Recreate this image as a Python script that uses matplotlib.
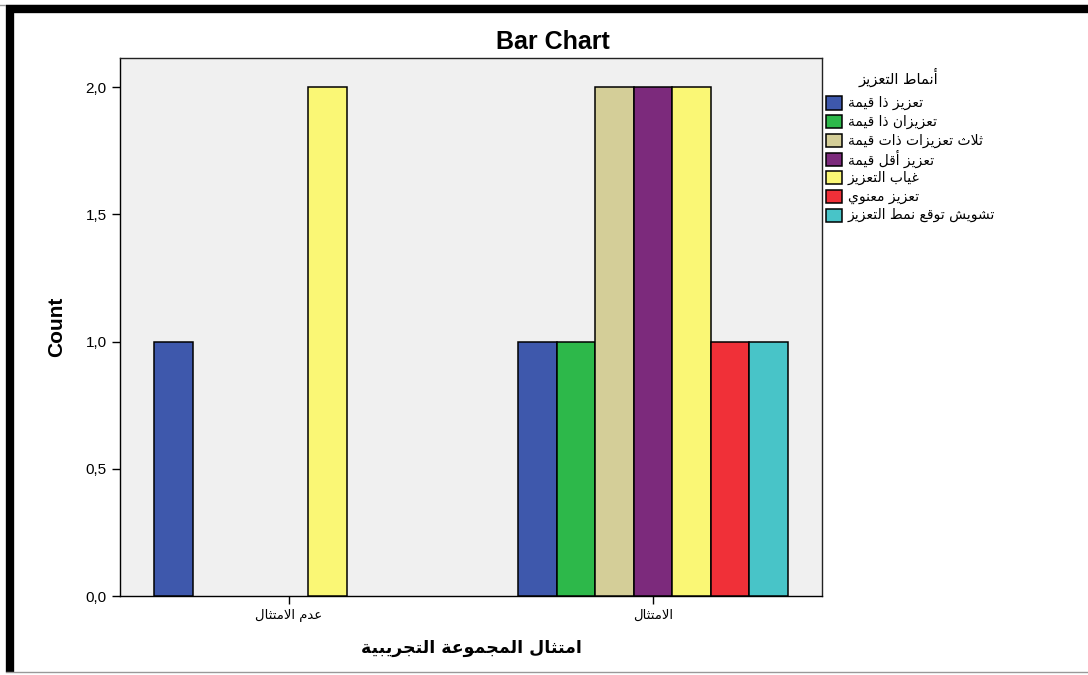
import matplotlib
matplotlib.use("Agg")
import matplotlib.pyplot as plt
from matplotlib.patches import Rectangle
from matplotlib.lines import Line2D
import numpy as np

categories = ['عدم الامتثال', 'الامتثال']
series_names = ['تعزيز ذا قيمة', 'تعزيزان ذا قيمة', 'ثلاث تعزيزات ذات قيمة',
                'تعزيز أقل قيمة', 'غياب التعزيز', 'تعزيز معنوي',
                'تشويش توقع نمط التعزيز']
# counts per series: [عدم الامتثال, الامتثال]
counts = [[1, 1], [0, 1], [0, 2], [0, 2], [2, 2], [0, 1], [0, 1]]
colors = ['#3E58AC', '#2DB84A', '#D4CE98', '#7C2A7C', '#FAF775', '#F03038', '#48C4C8']
yticks = [0, 0.5, 1.0, 1.5, 2.0]
ytick_labels = ['0,0', '0,5', '1,0', '1,5', '2,0']
legend_title = 'أنماط التعزيز'
xlabel = 'امتثال المجموعة التجريبية'

# minimal arabic shaping (contextual forms + lam-alef) and RTL reversal
RIGHT = {'آ': 0xFE81, 'أ': 0xFE83, 'ؤ': 0xFE85, 'إ': 0xFE87, 'ا': 0xFE8D, 'ة': 0xFE93,
         'د': 0xFEA9, 'ذ': 0xFEAB, 'ر': 0xFEAD, 'ز': 0xFEAF, 'و': 0xFEED, 'ى': 0xFEEF}
DUAL = {'ئ': 0xFE89, 'ب': 0xFE8F, 'ت': 0xFE95, 'ث': 0xFE99, 'ج': 0xFE9D, 'ح': 0xFEA1,
        'خ': 0xFEA5, 'س': 0xFEB1, 'ش': 0xFEB5, 'ص': 0xFEB9, 'ض': 0xFEBD, 'ط': 0xFEC1,
        'ظ': 0xFEC5, 'ع': 0xFEC9, 'غ': 0xFECD, 'ف': 0xFED1, 'ق': 0xFED5, 'ك': 0xFED9,
        'ل': 0xFEDD, 'م': 0xFEE1, 'ن': 0xFEE5, 'ه': 0xFEE9, 'ي': 0xFEF1}
LAMALEF = {'آ': 0xFEF5, 'أ': 0xFEF7, 'إ': 0xFEF9, 'ا': 0xFEFB}


def ar(s):
    toks = []
    i = 0
    while i < len(s):
        c = s[i]
        if c == 'ل' and i + 1 < len(s) and s[i + 1] in LAMALEF:
            toks.append(('r', LAMALEF[s[i + 1]]))
            i += 2
            continue
        if c in DUAL:
            toks.append(('d', DUAL[c]))
        elif c in RIGHT:
            toks.append(('r', RIGHT[c]))
        else:
            toks.append(('x', c))
        i += 1
    out = []
    for k, (t, b) in enumerate(toks):
        if t == 'x':
            out.append(b)
            continue
        prev = k > 0 and toks[k - 1][0] == 'd'
        nxt = t == 'd' and k + 1 < len(toks) and toks[k + 1][0] != 'x'
        if prev and nxt:
            f = 3
        elif prev:
            f = 1
        elif nxt:
            f = 2
        else:
            f = 0
        out.append(chr(b + f))
    return ''.join(reversed(out))


plt.rcParams['font.family'] = ['Liberation Sans', 'DejaVu Sans']

W, H = 1088, 675
fig = plt.figure(figsize=(W / 100, H / 100), dpi=100)
ax = fig.add_axes([0.1103, 0.117, 0.6452, 0.797])
ax.set_facecolor('#F0F0F0')

x = np.arange(len(categories))
w = 0.1058
n = len(series_names)
for i in range(n):
    vals = counts[i]
    lws = [1.1 if v > 0 else 0 for v in vals]
    ax.bar(x + (i - (n - 1) / 2) * w, vals, width=w, color=colors[i],
           edgecolor='black', linewidth=lws, zorder=3)

ax.set_xlim(-0.464, 1.464)
ax.set_ylim(0, 2.114)
ax.set_yticks(yticks)
ax.set_yticklabels(ytick_labels, fontsize=11)
ax.set_xticks(x)
ax.set_xticklabels([ar(c) for c in categories], fontsize=9.5, family=['DejaVu Sans'])
ax.tick_params(axis='both', direction='out', length=6, width=1, color='black')
for sp in ax.spines.values():
    sp.set_color('#222222')
    sp.set_linewidth(1)
ax.spines['left'].set_color('black')
ax.spines['bottom'].set_color('black')

ax.set_ylabel('Count', fontsize=15, fontweight='bold', labelpad=14)
ax.set_xlabel(ar(xlabel), fontsize=12.5, fontweight='bold', family=['DejaVu Sans'], labelpad=12)

fig.text(553 / W, 1 - 42 / H, 'Bar Chart', ha='center', va='center', fontsize=18,
         fontweight='bold')

# legend, drawn row by row so the rows stay evenly spaced
fig.text(898 / W, 1 - 77 / H, ar(legend_title), ha='center', va='center',
         fontsize=10.5, family=['DejaVu Sans'])
for i, (name, c) in enumerate(zip(series_names, colors)):
    yc = 103 + 18.7 * i
    fig.add_artist(Rectangle((826 / W, 1 - (yc + 6.5) / H), 16 / W, 13 / H,
                             facecolor=c, edgecolor='black', lw=1.1,
                             transform=fig.transFigure))
    fig.text(848 / W, 1 - yc / H, ar(name), ha='left', va='center', fontsize=10,
             family=['DejaVu Sans'])

# outer frame of the chart window
fig.add_artist(Line2D([0, 1], [1 - 4.5 / H] * 2, color='#999999', lw=1))
fig.add_artist(Line2D([6 / W, 1], [1 - 9 / H] * 2, color='black', lw=6,
                      solid_capstyle='butt'))
fig.add_artist(Line2D([10 / W] * 2, [1 - 6 / H, 1 - 672 / H], color='black', lw=6,
                      solid_capstyle='butt'))
fig.add_artist(Line2D([6 / W, 1], [1 - 672 / H] * 2, color='#999999', lw=1))

fig.savefig('out.png', dpi=100)
